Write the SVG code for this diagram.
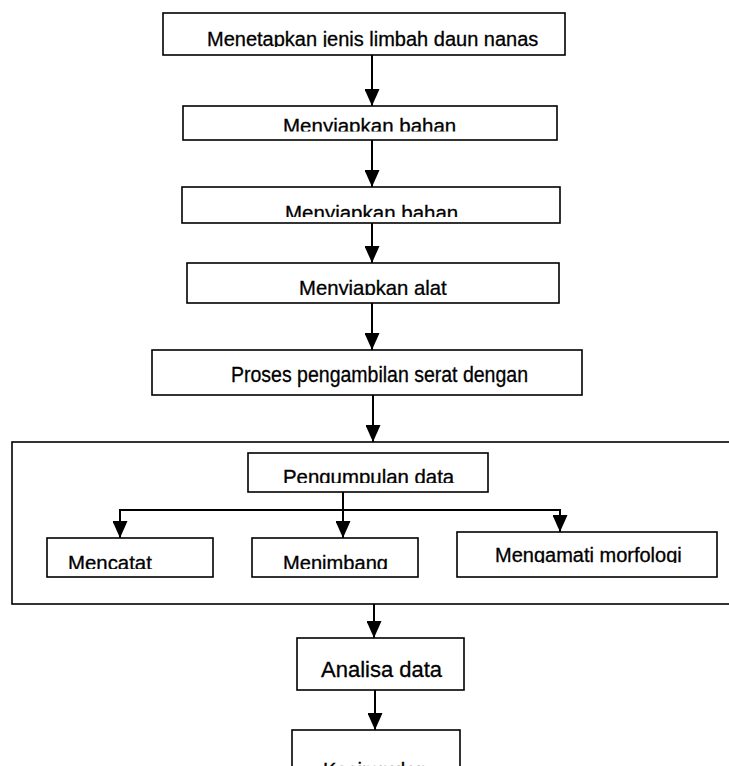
<svg xmlns="http://www.w3.org/2000/svg" width="729" height="766" viewBox="0 0 729 766">
<style>
.box{fill:#fff;stroke:#000;stroke-width:1.6}
.frame{fill:none;stroke:#000;stroke-width:1.6}
.lbl{font-family:"Liberation Sans",Arial,sans-serif;fill:#000;stroke:#000;stroke-width:0.3}
.con{fill:none;stroke:#000;stroke-width:2}
.arr{fill:none;stroke:#000;stroke-width:2;marker-end:url(#ah)}
</style>
<defs>
<marker id="ah" viewBox="0 0 17 15" markerWidth="17" markerHeight="15" refX="17" refY="7.5" orient="auto" markerUnits="userSpaceOnUse">
<path d="M0,0 L17,7.5 L0,15 Z" fill="#000"/>
</marker>
<clipPath id="c1" clipPathUnits="userSpaceOnUse"><rect x="164" y="14" width="400" height="33"/></clipPath>
<clipPath id="c2" clipPathUnits="userSpaceOnUse"><rect x="184" y="107" width="372" height="24.5"/></clipPath>
<clipPath id="c3" clipPathUnits="userSpaceOnUse"><rect x="183" y="188" width="376" height="29"/></clipPath>
<clipPath id="c4" clipPathUnits="userSpaceOnUse"><rect x="188" y="264" width="370" height="31"/></clipPath>
<clipPath id="c6" clipPathUnits="userSpaceOnUse"><rect x="249" y="454" width="238" height="29"/></clipPath>
<clipPath id="c7" clipPathUnits="userSpaceOnUse"><rect x="48" y="539" width="164" height="30"/></clipPath>
<clipPath id="c8" clipPathUnits="userSpaceOnUse"><rect x="253" y="539" width="164" height="30"/></clipPath>
<clipPath id="c9" clipPathUnits="userSpaceOnUse"><rect x="458" y="533" width="258" height="30"/></clipPath>
</defs>

<rect width="729" height="766" fill="#fff"/>

<g id="frame-pengumpulan">
<rect class="frame" x="12" y="442" width="730" height="162"/>
</g>

<g id="connectors">
<line class="arr" x1="372" y1="55" x2="372" y2="106"/>
<line class="arr" x1="372" y1="140" x2="372" y2="187"/>
<line class="arr" x1="372" y1="223" x2="372" y2="263"/>
<line class="arr" x1="372" y1="303" x2="372" y2="350"/>
<line class="arr" x1="373" y1="395" x2="373" y2="442"/>
<line class="arr" x1="343" y1="492" x2="343" y2="538"/>
<polyline class="con" points="120,538 120,510 560,510 560,532"/>
<line class="arr" x1="120" y1="520" x2="120" y2="538"/>
<line class="arr" x1="560" y1="518" x2="560" y2="532"/>
<line class="arr" x1="374" y1="604" x2="374" y2="638"/>
<line class="arr" x1="375" y1="690" x2="375" y2="730"/>
</g>

<g id="n1">
<rect class="box" x="163" y="13" width="402" height="42"/>
<text class="lbl" x="207" y="46" font-size="20" clip-path="url(#c1)">Menetapkan jenis limbah daun nanas</text>
</g>
<g id="n2">
<rect class="box" x="183" y="106" width="374" height="34"/>
<text class="lbl" x="283" y="133" font-size="20.5" clip-path="url(#c2)">Menyiapkan bahan</text>
</g>
<g id="n3">
<rect class="box" x="182" y="187" width="378" height="36"/>
<text class="lbl" x="285" y="219.5" font-size="20.5" clip-path="url(#c3)">Menyiapkan bahan</text>
</g>
<g id="n4">
<rect class="box" x="187" y="263" width="372" height="40"/>
<text class="lbl" x="299" y="294.5" font-size="20.3" clip-path="url(#c4)">Menyiapkan alat</text>
</g>
<g id="n5">
<rect class="box" x="152" y="350" width="430" height="45"/>
<text class="lbl" x="231" y="382" font-size="22" textLength="297" lengthAdjust="spacingAndGlyphs">Proses pengambilan serat dengan</text>
</g>
<g id="n6">
<rect class="box" x="248" y="453" width="240" height="39"/>
<text class="lbl" x="283" y="484" font-size="20.4" clip-path="url(#c6)">Pengumpulan data</text>
</g>
<g id="n7">
<rect class="box" x="47" y="538" width="166" height="39"/>
<text class="lbl" x="68" y="569.5" font-size="20.4" clip-path="url(#c7)">Mencatat</text>
</g>
<g id="n8">
<rect class="box" x="252" y="538" width="166" height="39"/>
<text class="lbl" x="283" y="569.5" font-size="20.1" clip-path="url(#c8)">Menimbang</text>
</g>
<g id="n9">
<rect class="box" x="457" y="532" width="260" height="45"/>
<text class="lbl" x="495" y="561.5" font-size="20" clip-path="url(#c9)">Mengamati morfologi</text>
</g>
<g id="n10">
<rect class="box" x="297" y="638" width="167" height="52"/>
<text class="lbl" x="321" y="677" font-size="22">Analisa data</text>
</g>
<g id="n11">
<rect class="box" x="292" y="730" width="168" height="50"/>
<text class="lbl" x="323" y="777" font-size="20">Kesimpulan</text>
</g>
</svg>
